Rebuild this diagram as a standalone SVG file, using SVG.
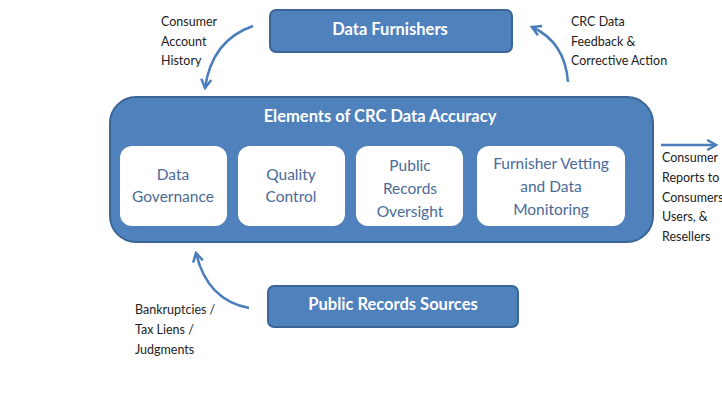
<svg xmlns="http://www.w3.org/2000/svg" width="722" height="412" viewBox="0 0 722 412">
<defs>
<marker id="ah" viewBox="0 0 10 10" refX="8" refY="5" markerWidth="5" markerHeight="5" orient="auto" markerUnits="strokeWidth">
<path d="M1,1 L8,5 L1,9" fill="none" stroke="#4a7ebb" stroke-width="2"/>
</marker>
<style>
.blue{fill:#4f81bd;stroke:#3a6596;stroke-width:2}
.white{fill:#ffffff;stroke:none}
.ht{font-family:Lato,"Liberation Sans",sans-serif;font-weight:bold;font-size:16.5px;fill:#ffffff;text-anchor:middle}
.it{font-family:Lato,"Liberation Sans",sans-serif;font-size:15.5px;fill:#4a6a99;text-anchor:middle}
.lb{font-family:Lato,"Liberation Sans",sans-serif;font-size:12.5px;fill:#222222}
.conn{fill:none;stroke:#4a7ebb;stroke-width:2.5;marker-end:url(#ah)}
</style>
</defs>
<rect width="722" height="412" fill="#ffffff"/>
<g id="data-furnishers">
<rect class="blue" x="270" y="10" width="242" height="42" rx="6"/>
<text class="ht" x="390" y="35">Data Furnishers</text>
</g>
<g id="elements">
<rect class="blue" x="110" y="97" width="543" height="145" rx="26"/>
<text class="ht" x="380" y="122">Elements of CRC Data Accuracy</text>
</g>
<g id="data-governance">
<rect class="white" x="120" y="146" width="107" height="80" rx="12"/>
<text class="it" x="173" y="180">Data</text>
<text class="it" x="173" y="202">Governance</text>
</g>
<g id="quality-control">
<rect class="white" x="238" y="146" width="107" height="80" rx="12"/>
<text class="it" x="291" y="180">Quality</text>
<text class="it" x="291" y="202">Control</text>
</g>
<g id="public-records-oversight">
<rect class="white" x="356" y="146" width="107" height="80" rx="12"/>
<text class="it" x="410" y="171">Public</text>
<text class="it" x="410" y="194">Records</text>
<text class="it" x="410" y="217">Oversight</text>
</g>
<g id="furnisher-vetting">
<rect class="white" x="477" y="146" width="148" height="80" rx="12"/>
<text class="it" x="551" y="169">Furnisher Vetting</text>
<text class="it" x="551" y="192">and Data</text>
<text class="it" x="551" y="215">Monitoring</text>
</g>
<g id="public-records-sources">
<rect class="blue" x="268" y="286" width="250" height="41" rx="6"/>
<text class="ht" x="393" y="310">Public Records Sources</text>
</g>
<g id="connectors">
<path class="conn" d="M253,26 Q212,40 205,88"/>
<path class="conn" d="M568,82 Q565,42 532,27"/>
<path class="conn" d="M249,308 Q207,300 196,253"/>
<path class="conn" d="M661,145 L716,145"/>
</g>
<g id="labels">
<text class="lb" x="161" y="26">Consumer</text>
<text class="lb" x="161" y="46">Account</text>
<text class="lb" x="161" y="65">History</text>
<text class="lb" x="571" y="26">CRC Data</text>
<text class="lb" x="571" y="46">Feedback &amp;</text>
<text class="lb" x="571" y="65">Corrective Action</text>
<text class="lb" x="662" y="162">Consumer</text>
<text class="lb" x="662" y="182">Reports to</text>
<text class="lb" x="662" y="202">Consumers,</text>
<text class="lb" x="662" y="221">Users, &amp;</text>
<text class="lb" x="662" y="241">Resellers</text>
<text class="lb" x="135" y="314">Bankruptcies /</text>
<text class="lb" x="135" y="334">Tax Liens /</text>
<text class="lb" x="135" y="354">Judgments</text>
</g>
</svg>
